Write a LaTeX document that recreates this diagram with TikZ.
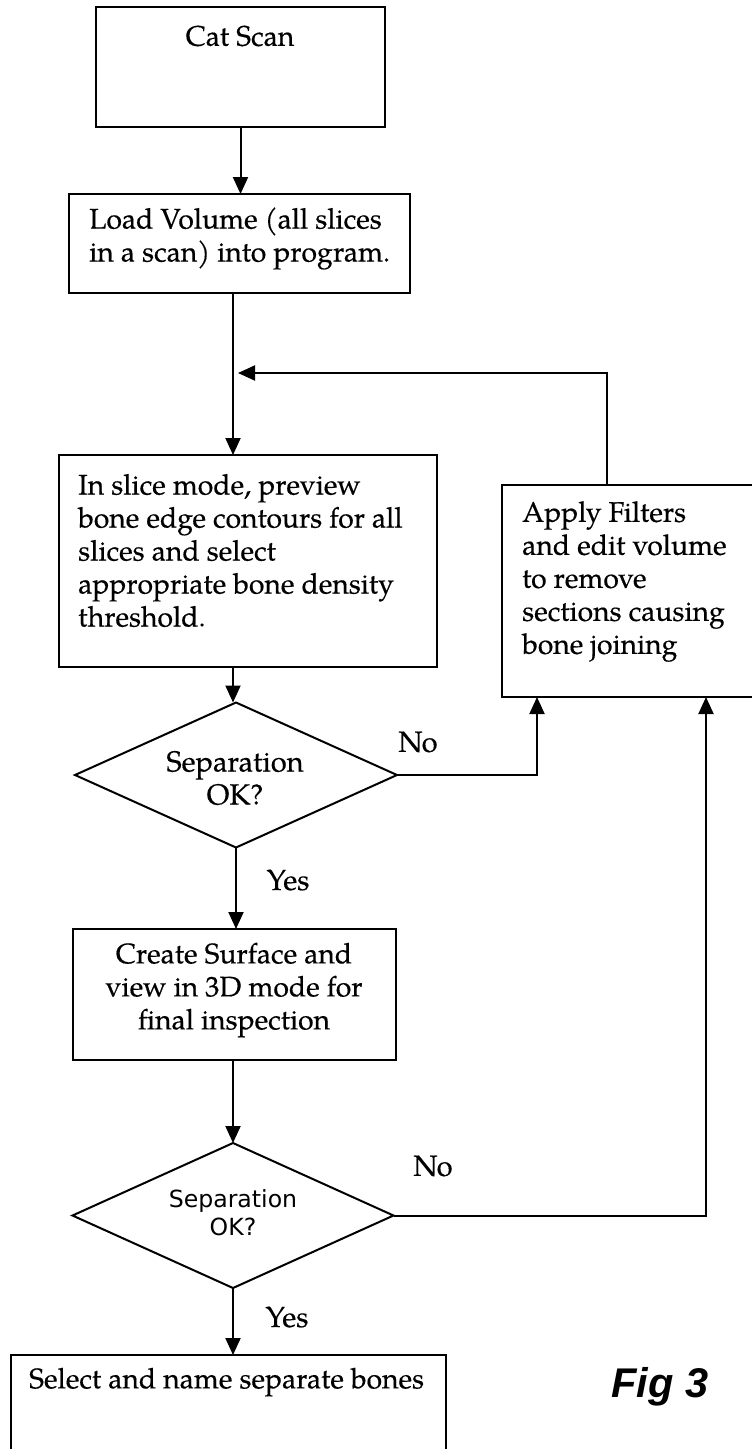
\documentclass[tikz,border=0pt]{standalone}
\usepackage{fontspec}
\setmainfont{texgyrepagella}[Extension=.otf,UprightFont=*-regular,BoldFont=*-bold,ItalicFont=*-italic,BoldItalicFont=*-bolditalic,FakeBold=0.4]
\newfontfamily\dejavu{DejaVu Sans}
\newfontfamily\arialf{Liberation Sans}
\usetikzlibrary{shapes.geometric,arrows.meta}
\begin{document}
\begin{tikzpicture}[x=1pt,y=-1pt,
  box/.style={draw, line width=2pt, rectangle, inner sep=0pt, outer sep=0pt},
  dia/.style={draw, line width=2pt, diamond, inner sep=0pt, outer sep=0pt},
  flow/.style={line width=2pt, -{Triangle[length=17pt,width=15pt]}},
  txt/.style={font=\fontsize{28.3}{33}\selectfont, inner sep=0pt},
  lbl/.style={font=\fontsize{29}{33}\selectfont, inner sep=0pt}]
\useasboundingbox (0,0) rectangle (752,1449);
% boxes
\node[box, minimum width=289pt, minimum height=120pt] (cat) at (240.5,67) {};
\node[box, minimum width=341pt, minimum height=99pt] (load) at (239.5,243.5) {};
\node[box, minimum width=378pt, minimum height=212pt] (slice) at (248,561) {};
\node[box, minimum width=278pt, minimum height=212pt] (apply) at (641,591) {};
\node[box, minimum width=323pt, minimum height=131pt] (surf) at (234.5,994.5) {};
\node[box, minimum width=435pt, minimum height=120pt] (sel) at (228.5,1415) {};
\node[dia, minimum width=322pt, minimum height=145pt] (d1) at (236,775) {};
\node[dia, minimum width=321pt, minimum height=145pt] (d2) at (233,1215.5) {};
% helper coordinates
\coordinate (mx) at (233,0);
\coordinate (jt) at (238,373);
\coordinate (rx) at (607,0);
\coordinate (n1) at (537,0);
\coordinate (n2) at (706,0);
% connectors
\draw[flow] (cat.south) -- (cat.south |- load.north);
\draw[flow] (load.south -| mx) -- (slice.north -| mx);
\draw[flow] (apply.north -| rx) |- (jt);
\draw[flow] (slice.south -| mx) -- (d1.north -| mx);
\draw[flow] (d1.east) -| (apply.south -| n1);
\draw[flow] (d1.south) -- (surf.north -| d1.south);
\draw[flow] (surf.south -| mx) -- (d2.north);
\draw[flow] (d2.east) -| (apply.south -| n2);
\draw[flow] (d2.south) -- (sel.north -| d2.south);
% texts
\node[txt] (tcat) at (240,36) {Cat Scan};
\node[txt, anchor=west, align=left] (tload) at (89,238.5) {Load Volume (all slices\\in a scan) into program.};
\node[txt, anchor=west, align=left] (tslice) at (78,550.5) {In slice mode, preview\\bone edge contours for all\\slices and select\\appropriate bone density\\threshold.};
\node[txt, anchor=west, align=left] (tapply) at (522,581.5) {Apply Filters\\and edit volume\\to remove\\sections causing\\bone joining};
\node[txt, align=center] (tsurf) at (234,990) {Create Surface and\\view in 3D mode for\\final inspection};
\node[txt, anchor=west] (tsel) at (29,1382) {Select and name separate bones};
\node[txt, font=\fontsize{29}{33}\selectfont, align=center] (td1) at (235,778) {Separation\\OK?};
\node[font=\dejavu\fontsize{23.6}{28}\selectfont, align=center, inner sep=0pt] (td2) at (233,1213) {Separation\\OK?};
\node[lbl] (no1) at (418,742) {No};
\node[lbl] (yes1) at (288,880) {Yes};
\node[lbl] (no2) at (433,1166) {No};
\node[lbl] (yes2) at (287,1317) {Yes};
\node[font=\arialf\bfseries\itshape\fontsize{41.5}{48}\selectfont, inner sep=0pt] (fig) at (660,1387) {Fig 3};
\end{tikzpicture}
\end{document}
